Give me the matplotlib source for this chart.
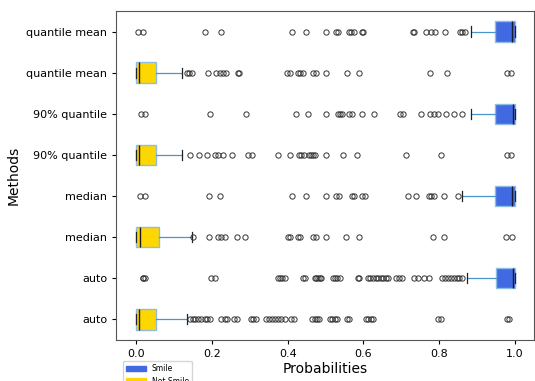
import numpy as np
from matplotlib import pyplot as plt
from matplotlib import patches as mpatches

# rows listed top to bottom
methods = ['quantile mean', 'quantile mean', '90% quantile', '90% quantile',
           'median', 'median', 'auto', 'auto']
classes = ['Smile', 'Not Smile', 'Smile', 'Not Smile',
           'Smile', 'Not Smile', 'Smile', 'Not Smile']

q1 = [0.947, 0.0, 0.947, 0.0, 0.946, 0.0, 0.949, 0.0]
med = [0.993, 0.007, 0.995, 0.007, 0.993, 0.010, 0.994, 0.007]
q3 = [1.0, 0.052, 1.0, 0.053, 1.0, 0.059, 1.0, 0.052]
whislo = [0.883, 0.0, 0.883, 0.0, 0.859, 0.0, 0.872, 0.0]
whishi = [1.0, 0.122, 1.0, 0.122, 1.0, 0.147, 1.0, 0.133]

fliers = [
    [0.006, 0.019, 0.183, 0.225, 0.411, 0.447, 0.5, 0.528, 0.533, 0.561, 0.568,
     0.574, 0.596, 0.6, 0.73, 0.734, 0.765, 0.778, 0.789, 0.815, 0.854, 0.861, 0.868],
    [0.135, 0.14, 0.147, 0.189, 0.21, 0.221, 0.23, 0.237, 0.268, 0.272, 0.399,
     0.405, 0.427, 0.433, 0.44, 0.467, 0.475, 0.5, 0.556, 0.589, 0.776, 0.82, 0.98, 0.989],
    [0.013, 0.022, 0.196, 0.289, 0.421, 0.454, 0.501, 0.533, 0.537, 0.543, 0.561,
     0.57, 0.597, 0.628, 0.697, 0.705, 0.752, 0.775, 0.787, 0.796, 0.817, 0.839, 0.859],
    [0.143, 0.165, 0.187, 0.208, 0.217, 0.23, 0.253, 0.296, 0.307, 0.374, 0.407,
     0.43, 0.436, 0.442, 0.456, 0.462, 0.468, 0.473, 0.501, 0.547, 0.582, 0.711,
     0.804, 0.98, 0.989],
    [0.011, 0.022, 0.191, 0.22, 0.412, 0.449, 0.5, 0.528, 0.535, 0.57, 0.574,
     0.597, 0.603, 0.717, 0.739, 0.772, 0.779, 0.787, 0.813, 0.85],
    [0.151, 0.191, 0.217, 0.225, 0.234, 0.265, 0.286, 0.401, 0.405, 0.428, 0.433,
     0.468, 0.475, 0.501, 0.553, 0.589, 0.783, 0.812, 0.975, 0.991],
    [0.017, 0.019, 0.022, 0.197, 0.208, 0.375, 0.38, 0.386, 0.392, 0.44, 0.445,
     0.471, 0.475, 0.48, 0.484, 0.489, 0.519, 0.525, 0.53, 0.537, 0.585, 0.589,
     0.611, 0.618, 0.625, 0.632, 0.638, 0.645, 0.652, 0.659, 0.664, 0.686, 0.693,
     0.701, 0.734, 0.743, 0.761, 0.774, 0.807, 0.815, 0.822, 0.831, 0.839, 0.846,
     0.853, 0.86],
    [0.142, 0.149, 0.156, 0.163, 0.17, 0.182, 0.188, 0.195, 0.225, 0.234, 0.24,
     0.258, 0.265, 0.303, 0.309, 0.316, 0.342, 0.35, 0.358, 0.366, 0.374, 0.383,
     0.392, 0.41, 0.416, 0.465, 0.471, 0.477, 0.482, 0.511, 0.518, 0.524, 0.53,
     0.556, 0.561, 0.607, 0.613, 0.62, 0.626, 0.796, 0.804, 0.978, 0.984],
]

colors = {'Smile': '#4169e1', 'Not Smile': '#ffd700'}

stats = []
for i in range(len(methods)):
    stats.append({'label': methods[i], 'q1': q1[i], 'med': med[i], 'q3': q3[i],
                  'whislo': whislo[i], 'whishi': whishi[i], 'fliers': fliers[i]})

n = len(methods)
pos = np.arange(n, 0, -1)

fig = plt.figure(figsize=(5.35, 3.81), dpi=100)
ax = fig.add_axes([0.217, 0.108, 0.781, 0.863])
bp = ax.bxp(stats, positions=pos, vert=False, widths=0.5, patch_artist=True,
            showcaps=True,
            boxprops=dict(edgecolor='#8dbde3', linewidth=1.0),
            whiskerprops=dict(color='#4a96cc', linewidth=0.9),
            capprops=dict(color='#222222', linewidth=0.9),
            medianprops=dict(color='#1a1a2e', linewidth=1.0),
            flierprops=dict(marker='o', markersize=3.8, markerfacecolor='none',
                            markeredgecolor='#333333', markeredgewidth=0.7))
for box, c in zip(bp['boxes'], classes):
    box.set_facecolor(colors[c])

ax.set_xlim(-0.053, 1.05)
ax.set_ylim(0.5, n + 0.5)
ax.set_yticks(pos)
ax.set_yticklabels(methods, fontsize=8)
ax.tick_params(axis='x', labelsize=8, length=3)
ax.tick_params(axis='y', length=3)
ax.set_xlabel('Probabilities', fontsize=10, labelpad=2)
ax.set_ylabel('Methods', fontsize=10, labelpad=4)
for s in ax.spines.values():
    s.set_color('#555555')

s = mpatches.Patch(color=colors['Smile'], label='Smile')
ns = mpatches.Patch(color=colors['Not Smile'], label='Not Smile')
fig.legend(handles=[s, ns], loc='upper left', bbox_to_anchor=(0.222, 0.063),
           fontsize=5.5, frameon=True, handlelength=2.6, borderpad=0.4,
           labelspacing=0.5)

fig.savefig('out.png', dpi=100)
